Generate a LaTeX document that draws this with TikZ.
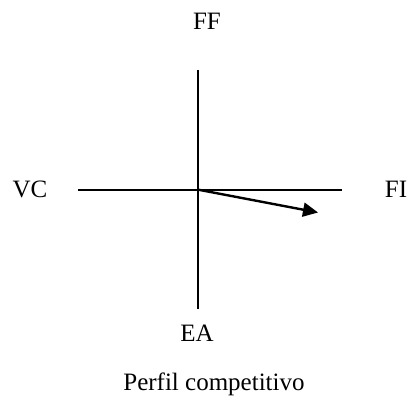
\documentclass[tikz,border=0pt]{standalone}
\usepackage{fontspec}
\setmainfont{Liberation Serif}
\usetikzlibrary{arrows.meta}
\begin{document}
\begin{tikzpicture}[x=1pt,y=-1pt,
  lbl/.style={anchor=base,inner sep=0pt,font=\fontsize{25}{28}\selectfont},
  axis/.style={line width=2pt},
  vec/.style={line width=2.4pt,-{Triangle[length=15pt,width=14pt]}}]
\useasboundingbox (0,0) rectangle (409,396);
\coordinate (top) at (198.3,70);
\coordinate (bot) at (198.3,309);
\coordinate (left) at (78,189.7);
\coordinate (right) at (342,189.7);
\coordinate (o) at (198.3,189.7);
\coordinate (tip) at (318,212.5);
\draw[axis] (top) -- (bot);
\draw[axis] (left) -- (right);
\draw[vec] (o) -- (tip);
\node[lbl] (ff) at (207,29.3) {FF};
\node[lbl] (vc) at (30,197.3) {VC};
\node[lbl] (fi) at (396,197.3) {FI};
\node[lbl] (ea) at (197,341) {EA};
\node[lbl] (cap) at (214,390.5) {Perfil competitivo};
\end{tikzpicture}
\end{document}
